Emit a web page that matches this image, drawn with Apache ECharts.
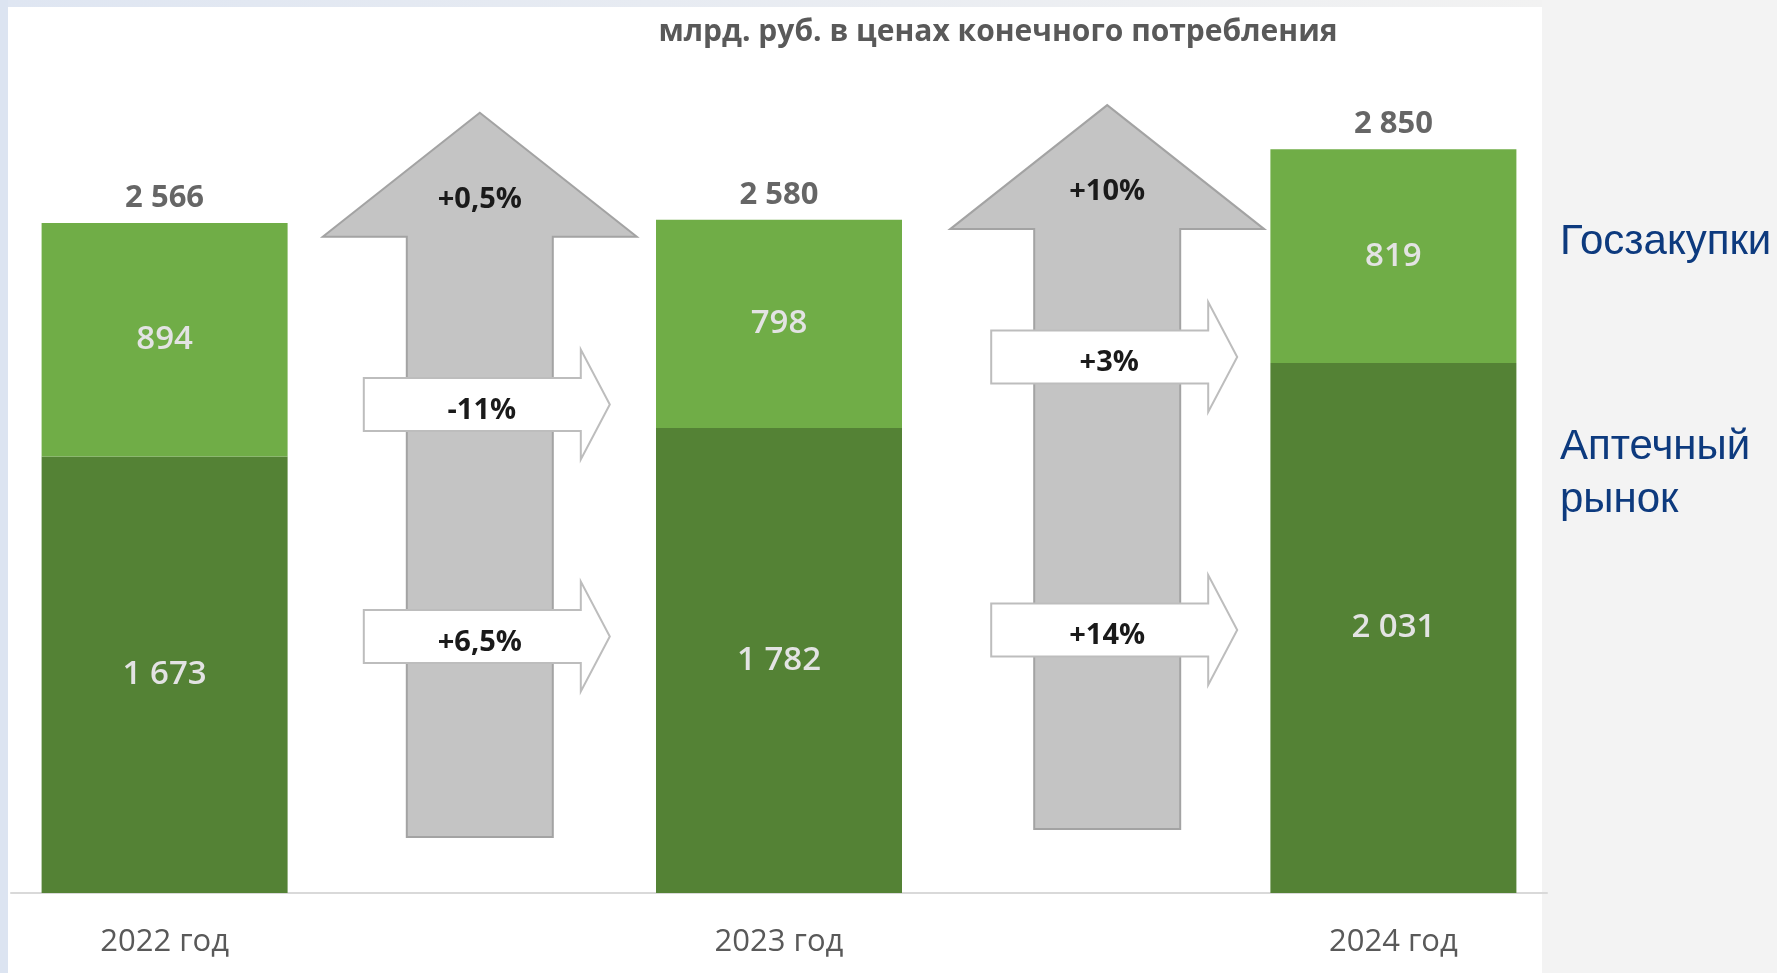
<!doctype html>
<html>
	<head>
	<meta charset="utf-8">
	<title>Лекарственный рынок: аптеки и госзакупки</title>
	<style>
		html,body{height: 100%; padding: 0; margin: 0;}
		#chart{width: 1777px; height: 973px;}
	</style>
	</head>
	<body>
		<div id="chart"></div>
	<script src="https://cdn.jsdelivr.net/npm/echarts@6.0.0/dist/echarts.min.js"></script>
	<script>
	var years = ['2022 год', '2023 год', '2024 год'];
	var pharmacy = [1673, 1782, 2031];      // Аптечный рынок
	var procurement = [894, 798, 819];      // Госзакупки
	var totals = [2566, 2580, 2850];
	var totalChange = ['+0,5%', '+10%'];
	var procurementChange = ['-11%', '+3%'];
	var pharmacyChange = ['+6,5%', '+14%'];

	// empty slots between the years hold the change arrows
	var slots = [];
	years.forEach(function(y, i){
		if(i){ slots.push(''); }
		slots.push(y);
	});

	// arrow placement: slot index, pixel nudge, and heights in axis units
	var arrowLayout = [
		{slot: 1, dx: 8, tip: 2990, base: 2515, bottom: 215, upper: 1872, lower: 983},
		{slot: 3, dx: 21, tip: 3019, base: 2544, bottom: 245, upper: 2054, lower: 1008}
	];

	var FONT = "'Open Sans', 'Noto Sans', sans-serif";

	function fmt(v){
		return String(v).replace(/\B(?=(\d{3})+(?!\d))/g, ' ');
	}

	function yearData(arr){
		return arr.map(function(v, i){ return [i * 2, v]; });
	}

	function label(text, x, y){
		return {
			type: 'text',
			z2: 10,
			style: {
				text: text, x: x, y: y,
				font: 'bold 29px ' + FONT,
				fill: '#1a1a1a',
				align: 'center', verticalAlign: 'middle',
				textAlign: 'center', textVerticalAlign: 'middle'
			}
		};
	}

	function rightArrow(cx, cy){
		var l = cx - 116, h = cx + 101, t = cx + 130;
		return {
			type: 'polygon',
			z2: 5,
			shape: {points: [[l, cy - 26.5], [h, cy - 26.5], [h, cy - 55], [t, cy], [h, cy + 55], [h, cy + 26.5], [l, cy + 26.5]]},
			style: {fill: '#ffffff', stroke: '#bdbdbd', lineWidth: 2}
		};
	}

	function renderArrow(params, api){
		var i = params.dataIndex;
		var cx = api.coord([api.value(0), 0])[0] + arrowLayout[i].dx;
		var y = function(v){ return api.coord([0, v])[1]; };
		var tip = y(api.value(1)), base = y(api.value(2)), bottom = y(api.value(3));
		var up = y(api.value(4)), low = y(api.value(5));
		return {
			type: 'group',
			children: [
				{
					type: 'polygon',
					z2: 1,
					shape: {points: [[cx, tip], [cx + 157, base], [cx + 73, base], [cx + 73, bottom], [cx - 73, bottom], [cx - 73, base], [cx - 157, base]]},
					style: {fill: '#c4c4c4', stroke: '#a3a3a3', lineWidth: 2}
				},
				rightArrow(cx, up),
				rightArrow(cx, low),
				label(totalChange[i], cx, tip + 87),
				label(procurementChange[i], cx + 2, up + 6),
				label(pharmacyChange[i], cx, low + 6)
			]
		};
	}

	var segLabel = {
		show: true, position: 'inside', fontFamily: FONT, fontWeight: 600, fontSize: 33, color: '#e3e3e3',
		formatter: function(p){ return fmt(p.value[1]); }
	};

	var myChart = echarts.init(document.getElementById('chart'));
	var option = {
		backgroundColor: '#f3f3f3',
		animation: false,
		title: {
			text: 'млрд. руб. в ценах конечного потребления',
			left: 998,
			top: 17,
			textAlign: 'center',
			padding: 0,
			textStyle: {fontFamily: FONT, fontWeight: 'bold', fontSize: 30, lineHeight: 30, color: '#595959'}
		},
		graphic: [
			{type: 'rect', z: -10, shape: {x: 0, y: 0, width: 8, height: 973}, style: {fill: '#dce4f1'}},
			{type: 'rect', z: -10, shape: {x: 8, y: 0, width: 1534, height: 7},
				style: {fill: new echarts.graphic.LinearGradient(0, 0, 1, 0, [{offset: 0, color: '#dfe6f2'}, {offset: 1, color: '#f2f2f2'}])}},
			{type: 'rect', z: -10, shape: {x: 8, y: 7, width: 1534, height: 966}, style: {fill: '#ffffff'}},
			{type: 'text', x: 1560, y: 242, style: {text: 'Госзакупки', font: "42px 'Liberation Sans', Arial, sans-serif", fill: '#0d3a7e', verticalAlign: 'middle', textVerticalAlign: 'middle'}},
			{type: 'text', x: 1560, y: 447, style: {text: 'Аптечный', font: "42px 'Liberation Sans', Arial, sans-serif", fill: '#0d3a7e', verticalAlign: 'middle', textVerticalAlign: 'middle'}},
			{type: 'text', x: 1560, y: 500, style: {text: 'рынок', font: "42px 'Liberation Sans', Arial, sans-serif", fill: '#0d3a7e', verticalAlign: 'middle', textVerticalAlign: 'middle'}}
		],
		grid: {left: 11, right: 230, top: 84, bottom: 80, containLabel: false, outerBoundsMode: 'none'},
		xAxis: {
			type: 'category',
			data: slots,
			boundaryGap: true,
			axisLine: {show: true, lineStyle: {color: '#d9d9d9', width: 2}},
			axisTick: {show: false},
			splitLine: {show: false},
			axisLabel: {
				interval: 0,
				margin: 34,
				fontFamily: FONT,
				fontSize: 31,
				lineHeight: 31,
				color: '#595959'
			}
		},
		yAxis: {type: 'value', min: 0, max: 3100, show: false, splitLine: {show: false}},
		series: [
			{
				name: 'Аптечный рынок',
				type: 'bar',
				stack: 'total',
				barWidth: 246,
				itemStyle: {color: '#548235'},
				label: segLabel,
				data: yearData(pharmacy)
			},
			{
				name: 'Госзакупки',
				type: 'bar',
				stack: 'total',
				barWidth: 246,
				itemStyle: {color: '#70ad47'},
				label: segLabel,
				data: yearData(procurement)
			},
			{
				name: 'Итого',
				type: 'scatter',
				symbolSize: 1,
				silent: true,
				itemStyle: {color: 'rgba(0,0,0,0)'},
				label: {show: true, position: 'top', distance: 9, fontFamily: FONT, fontWeight: 'bold', fontSize: 31, lineHeight: 31, color: '#404040',
					formatter: function(p){ return fmt(p.value[1]); }},
				data: yearData(totals)
			},
			{
				name: 'Изменение',
				type: 'custom',
				silent: true,
				renderItem: renderArrow,
				encode: {x: 0, y: [1, 2, 3, 4, 5]},
				data: arrowLayout.map(function(a){ return [a.slot, a.tip, a.base, a.bottom, a.upper, a.lower]; })
			}
		]
	};
	myChart.setOption(option);
	</script>
	</body>
</html>
